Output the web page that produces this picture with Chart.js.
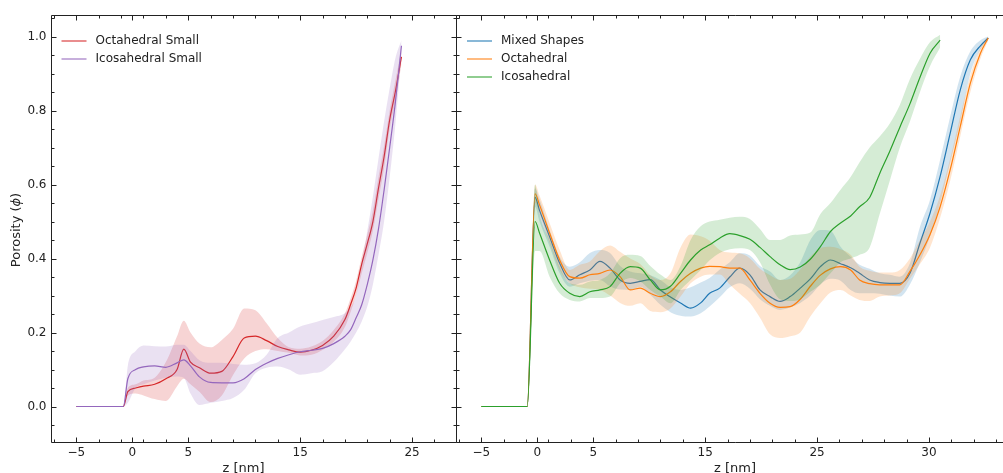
<!DOCTYPE html>
<html>
<head>
<meta charset="utf-8">
<script src="https://cdn.jsdelivr.net/npm/chart.js@4/dist/chart.umd.min.js"></script>
<style>
  html, body { margin: 0; padding: 0; background: #fff; width: 1003px; height: 473px; overflow: hidden; }
  canvas { position: absolute; left: 0; top: 0; }
</style>
</head>
<body>
<canvas id="graficoIzq" width="1003" height="473"></canvas>
<canvas id="graficoDer" width="1020" height="473"></canvas>
<script>
/* ============================== */
/* Datos */

// Panel izquierdo: posiciones z
const zIzq = [-5, -0.8, -0.4, 0.3, 1, 2, 3, 4, 4.6, 5.2, 6, 7, 8, 9, 10, 11, 12, 13, 14, 15, 16, 17, 18, 19, 19.5, 20, 20.5, 21, 21.5, 22, 22.5, 23, 23.5, 24.05];

// Octahedral Small
const octaPeqMedia = [0, 0, 0.04, 0.05, 0.055, 0.06, 0.075, 0.1, 0.155, 0.12, 0.105, 0.09, 0.095, 0.135, 0.185, 0.19, 0.178, 0.162, 0.153, 0.147, 0.152, 0.165, 0.19, 0.235, 0.275, 0.32, 0.385, 0.44, 0.5, 0.59, 0.675, 0.775, 0.85, 0.945];
const octaPeqSup = [0, 0, 0.05, 0.06, 0.07, 0.078, 0.12, 0.19, 0.232, 0.2, 0.17, 0.16, 0.18, 0.21, 0.265, 0.26, 0.225, 0.185, 0.16, 0.156, 0.162, 0.177, 0.207, 0.252, 0.292, 0.34, 0.405, 0.465, 0.53, 0.62, 0.705, 0.8, 0.88, 0.965];
const octaPeqInf = [0, 0, 0.03, 0.035, 0.03, 0.02, 0.015, 0.055, 0.075, 0.06, 0.04, 0.012, 0.03, 0.085, 0.13, 0.15, 0.155, 0.15, 0.145, 0.138, 0.14, 0.153, 0.175, 0.215, 0.255, 0.3, 0.36, 0.415, 0.475, 0.56, 0.645, 0.75, 0.825, 0.925];

// Icosahedral Small
const icoPeqMedia = [0, 0, 0.075, 0.1, 0.107, 0.11, 0.106, 0.118, 0.126, 0.11, 0.08, 0.065, 0.064, 0.064, 0.075, 0.1, 0.117, 0.13, 0.14, 0.148, 0.152, 0.157, 0.17, 0.19, 0.207, 0.24, 0.275, 0.33, 0.396, 0.48, 0.585, 0.7, 0.82, 0.975];
const icoPeqSup = [0, 0, 0.11, 0.15, 0.165, 0.163, 0.162, 0.167, 0.167, 0.15, 0.125, 0.118, 0.118, 0.115, 0.113, 0.117, 0.14, 0.185, 0.2, 0.216, 0.225, 0.234, 0.242, 0.252, 0.268, 0.3, 0.385, 0.475, 0.567, 0.67, 0.77, 0.86, 0.94, 0.99];
const icoPeqInf = [0, 0, 0.01, 0.05, 0.06, 0.07, 0.078, 0.081, 0.078, 0.035, 0.004, 0.01, 0.015, 0.023, 0.045, 0.09, 0.105, 0.108, 0.1, 0.086, 0.09, 0.095, 0.12, 0.155, 0.175, 0.2, 0.23, 0.27, 0.33, 0.41, 0.5, 0.62, 0.76, 0.95];

// Panel derecho: posiciones z
const zDer = [-5, -0.9, -0.2, 0.2, 1.1, 2, 2.9, 3.8, 4.7, 5.6, 6.5, 7.4, 8.3, 9.2, 10.1, 11, 11.9, 12.8, 13.7, 14.6, 15.4, 16.3, 17.2, 18.1, 19, 19.9, 20.8, 21.7, 22.6, 23.5, 24.4, 25.3, 26.2, 27.1, 28, 28.8, 29.7, 30.6, 31.5, 32.4, 33.3, 34.2, 35.1, 36, 36.9, 37.8, 38.7, 39.6, 40.3];

// Mixed Shapes
const mixtaMedia = [0, 0, 0.565, 0.53, 0.459, 0.387, 0.342, 0.356, 0.369, 0.392, 0.374, 0.342, 0.333, 0.338, 0.343, 0.315, 0.296, 0.28, 0.266, 0.28, 0.306, 0.32, 0.35, 0.374, 0.356, 0.315, 0.297, 0.284, 0.297, 0.32, 0.345, 0.378, 0.396, 0.386, 0.375, 0.36, 0.342, 0.335, 0.333, 0.333, 0.36, 0.442, 0.523, 0.622, 0.739, 0.856, 0.937, 0.975, 0.996];
const mixtaSup = [0, 0, 0.59, 0.56, 0.477, 0.405, 0.378, 0.39, 0.415, 0.423, 0.415, 0.38, 0.365, 0.36, 0.355, 0.342, 0.322, 0.315, 0.322, 0.335, 0.347, 0.37, 0.39, 0.414, 0.408, 0.38, 0.365, 0.342, 0.355, 0.39, 0.45, 0.477, 0.475, 0.432, 0.405, 0.383, 0.372, 0.36, 0.356, 0.351, 0.387, 0.486, 0.559, 0.667, 0.784, 0.892, 0.96, 0.99, 1.0];
const mixtaInf = [0, 0, 0.54, 0.5, 0.432, 0.36, 0.324, 0.333, 0.34, 0.342, 0.325, 0.316, 0.315, 0.324, 0.302, 0.275, 0.255, 0.245, 0.243, 0.252, 0.27, 0.295, 0.322, 0.333, 0.318, 0.29, 0.272, 0.261, 0.268, 0.28, 0.3, 0.33, 0.345, 0.34, 0.315, 0.306, 0.306, 0.305, 0.3, 0.297, 0.33, 0.39, 0.46, 0.55, 0.66, 0.77, 0.9, 0.965, 0.99];

// Octahedral
const octaMedia = [0, 0, 0.575, 0.545, 0.469, 0.396, 0.351, 0.347, 0.356, 0.36, 0.369, 0.351, 0.315, 0.32, 0.306, 0.297, 0.31, 0.338, 0.36, 0.374, 0.379, 0.378, 0.374, 0.374, 0.342, 0.306, 0.279, 0.268, 0.27, 0.29, 0.325, 0.355, 0.372, 0.378, 0.369, 0.342, 0.332, 0.329, 0.329, 0.329, 0.365, 0.41, 0.465, 0.54, 0.64, 0.757, 0.874, 0.955, 0.996];
const octaSup = [0, 0, 0.6, 0.57, 0.496, 0.423, 0.369, 0.383, 0.392, 0.42, 0.435, 0.418, 0.4, 0.385, 0.355, 0.342, 0.36, 0.43, 0.465, 0.46, 0.448, 0.423, 0.416, 0.414, 0.4, 0.372, 0.355, 0.342, 0.345, 0.37, 0.405, 0.428, 0.432, 0.425, 0.41, 0.378, 0.367, 0.362, 0.362, 0.369, 0.4, 0.45, 0.5, 0.57, 0.67, 0.785, 0.895, 0.97, 1.0];
const octaInf = [0, 0, 0.55, 0.52, 0.442, 0.369, 0.333, 0.322, 0.318, 0.315, 0.3, 0.28, 0.272, 0.279, 0.258, 0.255, 0.265, 0.297, 0.333, 0.351, 0.357, 0.357, 0.33, 0.305, 0.28, 0.24, 0.195, 0.185, 0.19, 0.2, 0.243, 0.279, 0.308, 0.315, 0.3, 0.288, 0.285, 0.297, 0.3, 0.306, 0.345, 0.385, 0.43, 0.51, 0.61, 0.73, 0.85, 0.94, 0.99];

// Icosahedral (termina antes)
const icoMedia = [0, 0, 0.5, 0.469, 0.396, 0.333, 0.306, 0.297, 0.31, 0.315, 0.324, 0.36, 0.378, 0.374, 0.342, 0.315, 0.325, 0.36, 0.396, 0.423, 0.437, 0.455, 0.467, 0.462, 0.452, 0.43, 0.405, 0.383, 0.37, 0.377, 0.398, 0.432, 0.473, 0.496, 0.515, 0.54, 0.565, 0.63, 0.69, 0.755, 0.818, 0.89, 0.955, 0.99];
const icoSup = [0, 0, 0.6, 0.52, 0.45, 0.378, 0.333, 0.329, 0.338, 0.342, 0.36, 0.401, 0.41, 0.407, 0.38, 0.357, 0.342, 0.38, 0.45, 0.487, 0.5, 0.505, 0.51, 0.513, 0.507, 0.48, 0.45, 0.45, 0.462, 0.465, 0.47, 0.52, 0.55, 0.586, 0.62, 0.66, 0.7, 0.73, 0.765, 0.815, 0.885, 0.94, 0.985, 1.005];
const icoInf = [0, 0, 0.42, 0.42, 0.351, 0.306, 0.288, 0.284, 0.293, 0.293, 0.297, 0.333, 0.347, 0.338, 0.315, 0.297, 0.279, 0.315, 0.342, 0.369, 0.395, 0.415, 0.425, 0.428, 0.423, 0.39, 0.33, 0.29, 0.285, 0.29, 0.31, 0.33, 0.36, 0.39, 0.4, 0.41, 0.43, 0.52, 0.61, 0.7, 0.77, 0.85, 0.92, 0.97];

// Ticks y etiquetas
const ticksXIzq = [-5, 0, 5, 15, 25];
const etiquetasXIzq = ['\u22125', '0', '5', '15', '25'];
const ticksXDer = [-5, 0, 5, 15, 25, 35];
const etiquetasXDer = ['\u22125', '0', '5', '15', '25', '30'];
const ticksY = [0, 0.2, 0.4, 0.6, 0.8, 1.0];
const etiquetasY = ['0.0', '0.2', '0.4', '0.6', '0.8', '1.0'];

const nombresIzq = ['Octahedral Small', 'Icosahedral Small'];
const nombresDer = ['Mixed Shapes', 'Octahedral', 'Icosahedral'];

/* ============================== */

Chart.defaults.font.family = "'DejaVu Sans', sans-serif";
Chart.defaults.color = '#222';

function puntos(xs, ys) {
  return ys.map((y, i) => ({ x: xs[i], y: y }));
}

/* Linea media + banda (sup rellena hasta inf) */
function crear_series(xs, media, sup, inf, color, relleno) {
  return [
    { data: puntos(xs, media), borderColor: color, borderWidth: 1.2, fill: false },
    { data: puntos(xs, sup), borderColor: 'rgba(0,0,0,0)', borderWidth: 1, backgroundColor: relleno, fill: '+1' },
    { data: puntos(xs, inf), borderColor: 'rgba(0,0,0,0)', borderWidth: 1, fill: false }
  ];
}

/* Marco y marcas de ticks hacia dentro */
const pluginMarcas = {
  id: 'marcas',
  afterDatasetsDraw(chart, args, opts) {
    const ctx = chart.ctx;
    const a = chart.chartArea;
    const sx = chart.scales.x;
    const sy = chart.scales.y;
    ctx.save();
    ctx.strokeStyle = '#222';
    ctx.lineWidth = 1;
    ctx.beginPath();
    ctx.rect(a.left, a.top, a.right - a.left, a.bottom - a.top);
    for (let v = Math.ceil(sx.min); v <= sx.max; v++) {
      let mayor = opts.ticksX.includes(v);
      let menor = Math.abs(v % 2) === 1;
      if (!mayor && !menor) continue;
      let l = mayor ? 5 : 3;
      let px = Math.round(sx.getPixelForValue(v)) + 0.5;
      ctx.moveTo(px, a.bottom); ctx.lineTo(px, a.bottom - l);
      ctx.moveTo(px, a.top); ctx.lineTo(px, a.top + l);
    }
    for (let k = -1; k <= 21; k++) {
      let v = k * 0.05;
      if (v < sy.min || v > sy.max) continue;
      let l = (k % 4 === 0) ? 5 : 3;
      let py = Math.round(sy.getPixelForValue(v)) + 0.5;
      ctx.moveTo(a.left, py); ctx.lineTo(a.left + l, py);
      ctx.moveTo(a.right, py); ctx.lineTo(a.right - l, py);
    }
    ctx.stroke();
    ctx.restore();
  }
};

/* Leyenda dentro del area */
const pluginLeyenda = {
  id: 'leyenda',
  afterDraw(chart, args, opts) {
    const ctx = chart.ctx;
    ctx.save();
    ctx.font = "12px 'DejaVu Sans'";
    ctx.textBaseline = 'middle';
    ctx.textAlign = 'left';
    opts.items.forEach((item, i) => {
      let y = opts.y + i * 18;
      ctx.strokeStyle = item.color;
      ctx.lineWidth = 1.5;
      ctx.beginPath();
      ctx.moveTo(opts.x, y);
      ctx.lineTo(opts.x + 25, y);
      ctx.stroke();
      ctx.fillStyle = '#222';
      ctx.fillText(item.texto, opts.x + 34, y);
    });
    ctx.restore();
  }
};

/* Titulos de ejes */
const pluginTitulos = {
  id: 'titulos',
  afterDraw(chart, args, opts) {
    const ctx = chart.ctx;
    ctx.save();
    ctx.fillStyle = '#222';
    ctx.font = "13px 'DejaVu Sans'";
    ctx.textBaseline = 'alphabetic';
    ctx.textAlign = 'center';
    ctx.fillText('z [nm]', opts.xCentro, 472);
    if (opts.conY) {
      let partes = [['Porosity (', "13px 'DejaVu Sans'"], ['\u03D5', "italic 13px 'DejaVu Sans'"], [')', "13px 'DejaVu Sans'"]];
      let total = 0;
      partes.forEach(p => { ctx.font = p[1]; total += ctx.measureText(p[0]).width; });
      ctx.translate(20, 230);
      ctx.rotate(-Math.PI / 2);
      ctx.textAlign = 'left';
      let x = -total / 2;
      partes.forEach(p => {
        ctx.font = p[1];
        ctx.fillText(p[0], x, 0);
        x += ctx.measureText(p[0]).width;
      });
    }
    ctx.restore();
  }
};

function opciones_escalas(xmin, xmax, ticksX, etiquetasX, anchoY, conEtiquetasY) {
  return {
    x: {
      type: 'linear', min: xmin, max: xmax,
      afterFit: s => { s.height = 30.5; },
      afterBuildTicks: s => { s.ticks = ticksX.map(v => ({ value: v })); },
      ticks: {
        autoSkip: false, maxRotation: 0, padding: 3,
        font: { size: 12 }, color: '#222',
        callback: v => etiquetasX[ticksX.indexOf(v)]
      },
      grid: { display: false, drawTicks: false },
      border: { display: false }
    },
    y: {
      type: 'linear', min: -0.0973, max: 1.0568,
      afterFit: s => { s.width = anchoY; },
      afterBuildTicks: s => { s.ticks = ticksY.map(v => ({ value: v })); },
      ticks: {
        display: conEtiquetasY, autoSkip: false, padding: 5,
        font: { size: 12 }, color: '#222',
        callback: v => etiquetasY[ticksY.indexOf(v)]
      },
      grid: { display: false, drawTicks: false },
      border: { display: false }
    }
  };
}

function grafico_izquierdo() {
  const ctx = document.getElementById('graficoIzq');
  let datasets = [].concat(
    crear_series(zIzq, icoPeqMedia, icoPeqSup, icoPeqInf, '#9467bd', 'rgba(148,103,189,0.2)'),
    crear_series(zIzq, octaPeqMedia, octaPeqSup, octaPeqInf, '#d62728', 'rgba(214,39,40,0.2)')
  );
  new Chart(ctx, {
    type: 'line',
    data: { datasets: datasets },
    options: {
      responsive: false, animation: false, devicePixelRatio: 1,
      layout: { padding: { left: 0, top: 15.5, right: 546.5, bottom: 0 } },
      elements: { point: { radius: 0 }, line: { cubicInterpolationMode: 'monotone' } },
      scales: opciones_escalas(-7.22, 28.97, ticksXIzq, etiquetasXIzq, 51.5, true),
      plugins: {
        legend: { display: false },
        tooltip: { enabled: false },
        marcas: { ticksX: ticksXIzq },
        leyenda: { x: 61.5, y: 41, items: [
          { texto: nombresIzq[0], color: 'rgba(214,39,40,0.7)' },
          { texto: nombresIzq[1], color: 'rgba(148,103,189,0.7)' }
        ] },
        titulos: { xCentro: 243.5, conY: true }
      }
    },
    plugins: [pluginMarcas, pluginLeyenda, pluginTitulos]
  });
}

function grafico_derecho() {
  const ctx = document.getElementById('graficoDer');
  let datasets = [].concat(
    crear_series(zDer, icoMedia, icoSup, icoInf, '#2ca02c', 'rgba(44,160,44,0.2)'),
    crear_series(zDer, octaMedia, octaSup, octaInf, '#ff7f0e', 'rgba(255,127,14,0.2)'),
    crear_series(zDer, mixtaMedia, mixtaSup, mixtaInf, '#1f77b4', 'rgba(31,119,180,0.2)')
  );
  new Chart(ctx, {
    type: 'line',
    data: { datasets: datasets },
    options: {
      responsive: false, animation: false, devicePixelRatio: 1,
      layout: { padding: { left: 456.5, top: 15.5, right: 6, bottom: 0 } },
      elements: { point: { radius: 0 }, line: { cubicInterpolationMode: 'monotone' } },
      scales: opciones_escalas(-7.22, 42.6, ticksXDer, etiquetasXDer, 0, false),
      plugins: {
        legend: { display: false },
        tooltip: { enabled: false },
        marcas: { ticksX: ticksXDer },
        leyenda: { x: 467, y: 41, items: [
          { texto: nombresDer[0], color: 'rgba(31,119,180,0.7)' },
          { texto: nombresDer[1], color: 'rgba(255,127,14,0.7)' },
          { texto: nombresDer[2], color: 'rgba(44,160,44,0.7)' }
        ] },
        titulos: { xCentro: 735, conY: false }
      }
    },
    plugins: [pluginMarcas, pluginLeyenda, pluginTitulos]
  });
}

grafico_izquierdo();
grafico_derecho();
</script>
</body>
</html>
